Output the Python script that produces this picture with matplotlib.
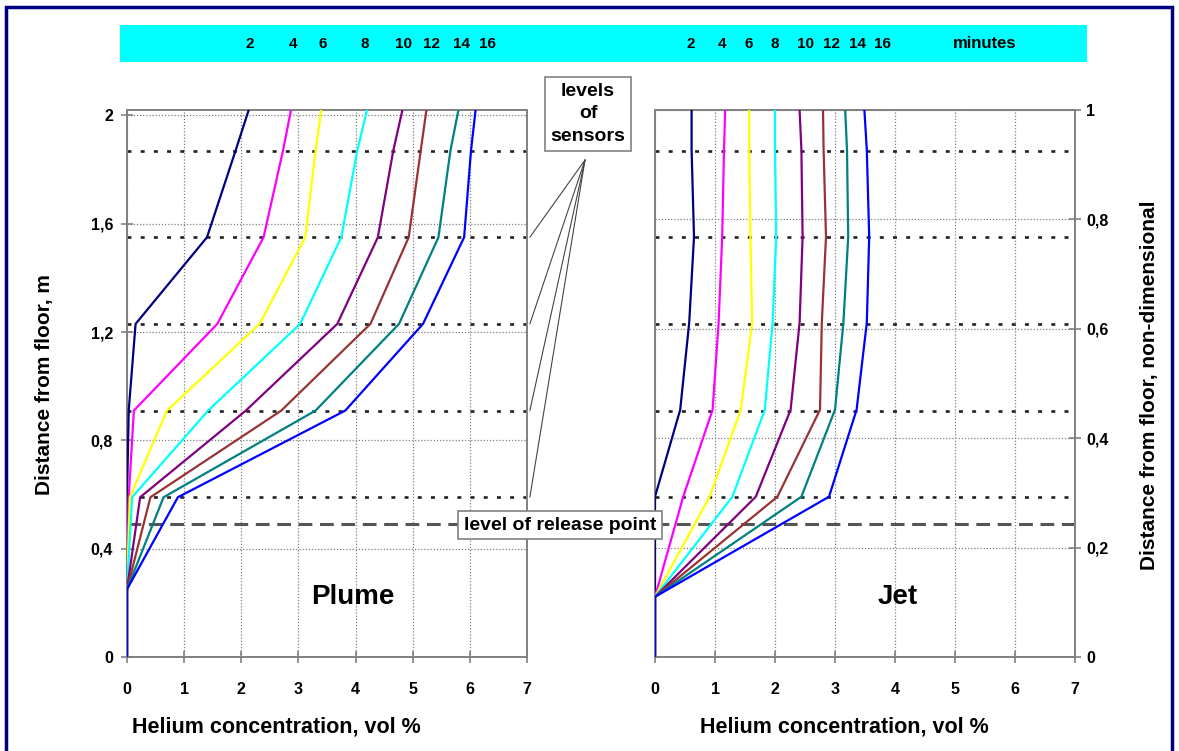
import matplotlib
matplotlib.use("Agg")
import matplotlib.pyplot as plt
import matplotlib.patches as patches
import matplotlib.transforms as mtransforms
from matplotlib.ticker import FuncFormatter

plt.rcParams['font.family'] = ['Liberation Sans', 'DejaVu Sans']
plt.rcParams['font.weight'] = 'bold'

# time of each profile, minutes
minutes = [2, 4, 6, 8, 10, 12, 14, 16]
colors = ['#000080', '#FF00FF', '#FFFF00', '#00FFFF',
          '#800080', '#993333', '#008080', '#0000FF']

# Plume: heights (m) and helium concentration (vol %) per profile
plume_height = [0, 0.25, 0.59, 0.91, 1.23, 1.55, 1.87, 2.02]
plume_conc = [
    [0, 0, 0.00, 0.03, 0.15, 1.40, 1.90, 2.13],
    [0, 0, 0.03, 0.12, 1.58, 2.39, 2.73, 2.87],
    [0, 0, 0.05, 0.70, 2.32, 3.12, 3.30, 3.40],
    [0, 0, 0.09, 1.42, 3.03, 3.75, 4.03, 4.20],
    [0, 0, 0.23, 2.08, 3.68, 4.39, 4.66, 4.82],
    [0, 0, 0.41, 2.70, 4.26, 4.93, 5.14, 5.24],
    [0, 0, 0.64, 3.30, 4.76, 5.45, 5.66, 5.80],
    [0, 0, 0.89, 3.82, 5.18, 5.90, 6.02, 6.10],
]

# Jet: non-dimensional heights and concentration per profile
jet_height = [0, 0.11, 0.293, 0.452, 0.611, 0.768, 0.927, 1.0]
jet_conc = [
    [0, 0, 0.00, 0.42, 0.57, 0.65, 0.61, 0.61],
    [0, 0, 0.47, 0.96, 1.06, 1.12, 1.15, 1.17],
    [0, 0, 0.91, 1.43, 1.62, 1.59, 1.57, 1.57],
    [0, 0, 1.29, 1.83, 1.96, 2.02, 2.00, 2.00],
    [0, 0, 1.68, 2.26, 2.41, 2.46, 2.44, 2.41],
    [0, 0, 2.04, 2.75, 2.78, 2.85, 2.81, 2.80],
    [0, 0, 2.44, 3.00, 3.14, 3.22, 3.20, 3.17],
    [0, 0, 2.90, 3.36, 3.53, 3.57, 3.53, 3.49],
]

sensor_levels = [0.59, 0.91, 1.23, 1.55, 1.87]   # m
release_level = 0.49                              # m

plume_yticks = [0, 0.4, 0.8, 1.2, 1.6, 2.0]
jet_yticks = [0, 0.2, 0.4, 0.6, 0.8, 1.0]
xticks = [0, 1, 2, 3, 4, 5, 6, 7]

W, H = 1179, 751
fig = plt.figure(figsize=(W / 100, H / 100), dpi=100)
fig.patch.set_facecolor('white')

ax_l = fig.add_axes([127 / W, 1 - 657 / H, 400 / W, 547 / H])
ax_r = fig.add_axes([655 / W, 1 - 657 / H, 420 / W, 547 / H])

comma = FuncFormatter(lambda v, p: f'{v:g}'.replace('.', ','))
grid_style = dict(color='#808080', linestyle=(0, (1, 1.5)), linewidth=0.9)

for ax in (ax_l, ax_r):
    ax.set_xlim(0, 7)
    ax.set_xticks(xticks)
    ax.grid(True, **grid_style)
    ax.set_axisbelow(True)
    ax.yaxis.set_major_formatter(comma)
    for s in ax.spines.values():
        s.set_color('#808080')
        s.set_linewidth(1.4)
    ax.tick_params(direction='inout', length=8, width=1.2, color='#808080',
                   labelsize=11.5, labelcolor='black')
    ax.tick_params(axis='x', pad=14)

ax_l.set_ylim(0, 2.02)
ax_l.set_yticks(plume_yticks)
ax_l.tick_params(axis='y', pad=6)

ax_r.set_ylim(0, 1.0)
ax_r.set_yticks(jet_yticks)
ax_r.yaxis.tick_right()
ax_r.tick_params(axis='y', pad=4)

for conc, c in zip(plume_conc, colors):
    ax_l.plot(conc, plume_height, color=c, lw=1.6, zorder=3)
for conc, c in zip(jet_conc, colors):
    ax_r.plot(conc, jet_height, color=c, lw=1.6, zorder=3)

# sensor levels and release point, shared height in metres across both panels
sensor_style = dict(color='#222222', lw=1.9, linestyle=(0, (1.5, 3.5)), zorder=2)
release_style = dict(color='#555555', lw=2.2, linestyle=(0, (4.5, 2.5)), zorder=2)
trans_r = mtransforms.blended_transform_factory(ax_r.transAxes, ax_l.transData)
for lvl in sensor_levels:
    ax_l.plot([0, 7], [lvl, lvl], **sensor_style)
    ax_r.plot([0, 1], [lvl, lvl], transform=trans_r, **sensor_style)
ax_l.plot([0, 7], [release_level, release_level], **release_style)
ax_r.plot([0, 1], [release_level, release_level], transform=trans_r, **release_style)

ax_l.text(3.95, 0.22, 'Plume', fontsize=20, ha='center', va='center')
ax_r.text(4.05, 0.11, 'Jet', fontsize=20, ha='center', va='center')

box = dict(boxstyle='square,pad=0.3', fc='white', ec='#808080', lw=1.2)
fig.text(588 / W, 1 - 114 / H, 'levels\nof\nsensors', fontsize=14,
         ha='center', va='center', linespacing=1.45, bbox=box, zorder=10)
fig.text(560 / W, 1 - 525 / H, 'level of release point', fontsize=14,
         ha='center', va='center', bbox=box, zorder=10)

for lvl in sensor_levels[:4]:
    ax_l.annotate('', xy=(7.05, lvl), xycoords='data',
                  xytext=(585 / W, 1 - 160 / H), textcoords='figure fraction',
                  arrowprops=dict(arrowstyle='-', color='#444444', lw=0.8,
                                  shrinkA=0, shrinkB=0),
                  annotation_clip=False)

# axis titles
fig.text(276 / W, 1 - 727 / H, 'Helium concentration, vol %', fontsize=15.5,
         ha='center', va='center')
fig.text(844 / W, 1 - 727 / H, 'Helium concentration, vol %', fontsize=15.5,
         ha='center', va='center')
fig.text(45 / W, 1 - 385 / H, 'Distance from floor, m', fontsize=15,
         rotation=90, ha='center', va='center')
fig.text(1150 / W, 1 - 385 / H, 'Distance from floor, non-dimensional',
         fontsize=15, rotation=90, ha='center', va='center')

# time legend strip
fig.patches.append(patches.Rectangle((120 / W, 1 - 62 / H), 967 / W, 37 / H,
                                     transform=fig.transFigure, fc='#00FFFF',
                                     ec='none', zorder=0))
left_pos = [250, 293, 323, 365, 403, 432, 462, 487]
right_pos = [691, 722, 749, 775, 806, 832, 858, 882]
for m, xl, xr in zip(minutes, left_pos, right_pos):
    fig.text(xl / W, 1 - 44 / H, str(m), fontsize=11, ha='center', va='center')
    fig.text(xr / W, 1 - 44 / H, str(m), fontsize=11, ha='center', va='center')
fig.text(985 / W, 1 - 44 / H, 'minutes', fontsize=12, ha='center', va='center')

# outer frame
fig.patches.append(patches.Rectangle((6 / W, -0.02), 1166 / W, 1 - 7 / H + 0.02,
                                     transform=fig.transFigure, fill=False,
                                     ec='#000080', lw=2.5, zorder=20))

fig.savefig('out.png', dpi=100)
